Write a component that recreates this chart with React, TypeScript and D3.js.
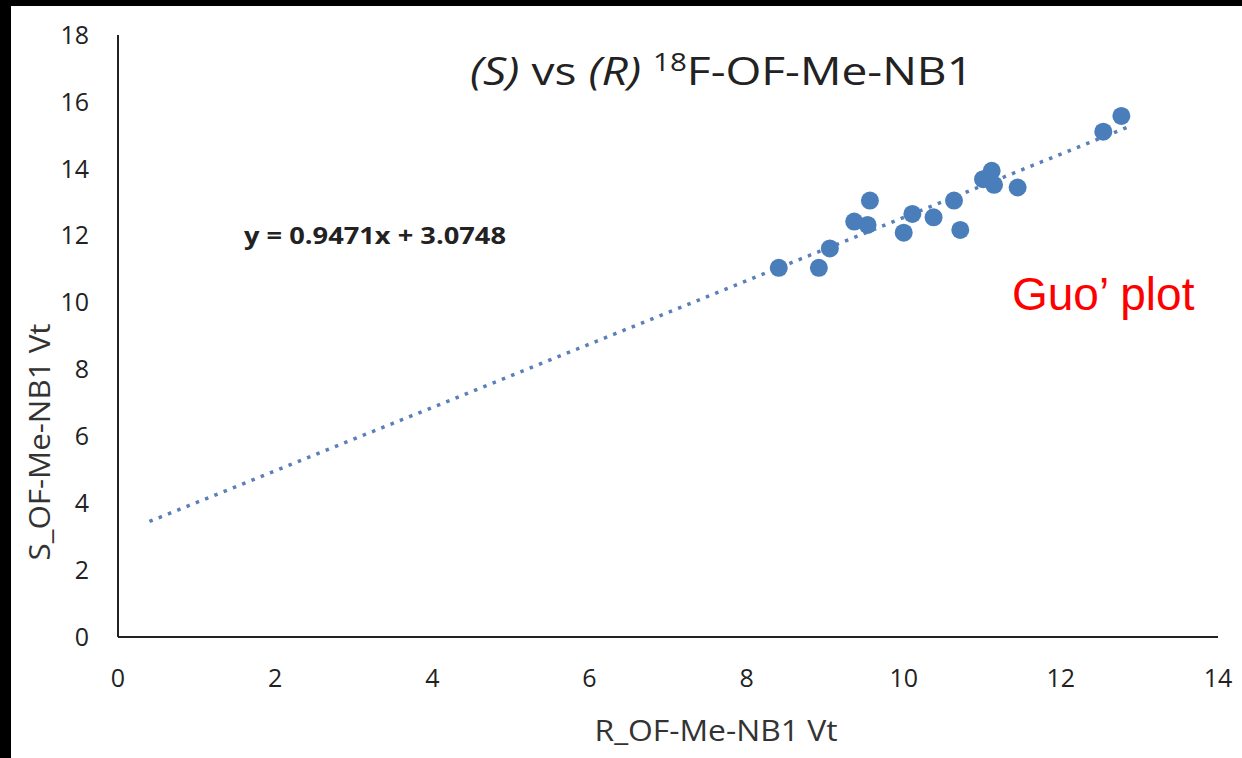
import React from 'react';
import * as d3 from 'd3';

// R vs S Vt values
const rValues = [8.41, 8.92, 9.06, 9.37, 9.54, 9.57, 10.0, 10.11, 10.38, 10.64, 10.72, 11.01, 11.12, 11.15, 11.45, 12.54, 12.77];
const sValues = [11.04, 11.04, 11.62, 12.42, 12.32, 13.05, 12.09, 12.65, 12.55, 13.05, 12.17, 13.69, 13.94, 13.52, 13.44, 15.11, 15.58];
const xTicks = [0, 2, 4, 6, 8, 10, 12, 14];
const yTicks = [0, 2, 4, 6, 8, 10, 12, 14, 16, 18];
const slope = 0.9471;
const intercept = 3.0748;
const trendRange = [0.4, 12.85];

const W = 1242;
const H = 758;
const font = '"Open Sans", sans-serif';

export default function App() {
  const x = d3.scaleLinear().domain([0, 14]).range([118, 1218]);
  const y = d3.scaleLinear().domain([0, 18]).range([637, 35]);

  const trend = d3.line<number>()
    .x(d => x(d))
    .y(d => y(slope * d + intercept));

  const points = rValues.map((r, i) => ({ r, s: sValues[i] }));

  return (
    <svg width={W} height={H} style={{ position: 'fixed', left: 0, top: 0 }}>
      <rect width={W} height={H} fill="#000" />
      <rect x={11} y={6} width={W - 11} height={H - 6} fill="#fff" />

      {/* axes */}
      <line x1={x(0)} x2={x(0)} y1={y(18)} y2={y(0)} stroke="#222" strokeWidth={2} />
      <line x1={x(0)} x2={x(14)} y1={y(0)} y2={y(0)} stroke="#222" strokeWidth={2} />

      {yTicks.map(t => (
        <text key={t} x={89} y={y(t)} dy="0.35em" textAnchor="end"
          fontFamily={font} fontSize={25} fill="#222">{t}</text>
      ))}
      {xTicks.map(t => (
        <text key={t} x={x(t)} y={687} textAnchor="middle"
          fontFamily={font} fontSize={25} fill="#222">{t}</text>
      ))}

      <text x={716} y={741} textAnchor="middle" fontFamily={font} fontSize={29}
        fill="#333" textLength={243} lengthAdjust="spacingAndGlyphs">R_OF-Me-NB1 Vt</text>
      <text transform="translate(50,442) rotate(-90)" textAnchor="middle" fontFamily={font}
        fontSize={29} fill="#333" textLength={237} lengthAdjust="spacingAndGlyphs">S_OF-Me-NB1 Vt</text>

      {/* title */}
      <text x={470} y={85} fontFamily={font} fontSize={39} fill="#222"
        textLength={503} lengthAdjust="spacingAndGlyphs">
        <tspan fontStyle="italic">(S)</tspan>
        <tspan> vs </tspan>
        <tspan fontStyle="italic">(R)</tspan>
        <tspan> </tspan>
        <tspan fontSize={25} dy={-14}>18</tspan>
        <tspan dy={14}>F-OF-Me-NB1</tspan>
      </text>

      {/* trendline */}
      <path d={trend(trendRange) || ''} fill="none" stroke="#5b7fb8" strokeWidth={3.5}
        strokeDasharray="3.5 6.5" />

      {points.map((p, i) => (
        <circle key={i} cx={x(p.r)} cy={y(p.s)} r={9} fill="#4a7ebb" />
      ))}

      <text x={244} y={244} fontFamily={font} fontSize={23} fontWeight="bold" fill="#222"
        textLength={262} lengthAdjust="spacingAndGlyphs">y = 0.9471x + 3.0748</text>

      <text x={1012} y={310} fontFamily='"Liberation Sans", Arial, sans-serif' fontSize={46}
        fill="#ff0000">Guo’ plot</text>
    </svg>
  );
}
